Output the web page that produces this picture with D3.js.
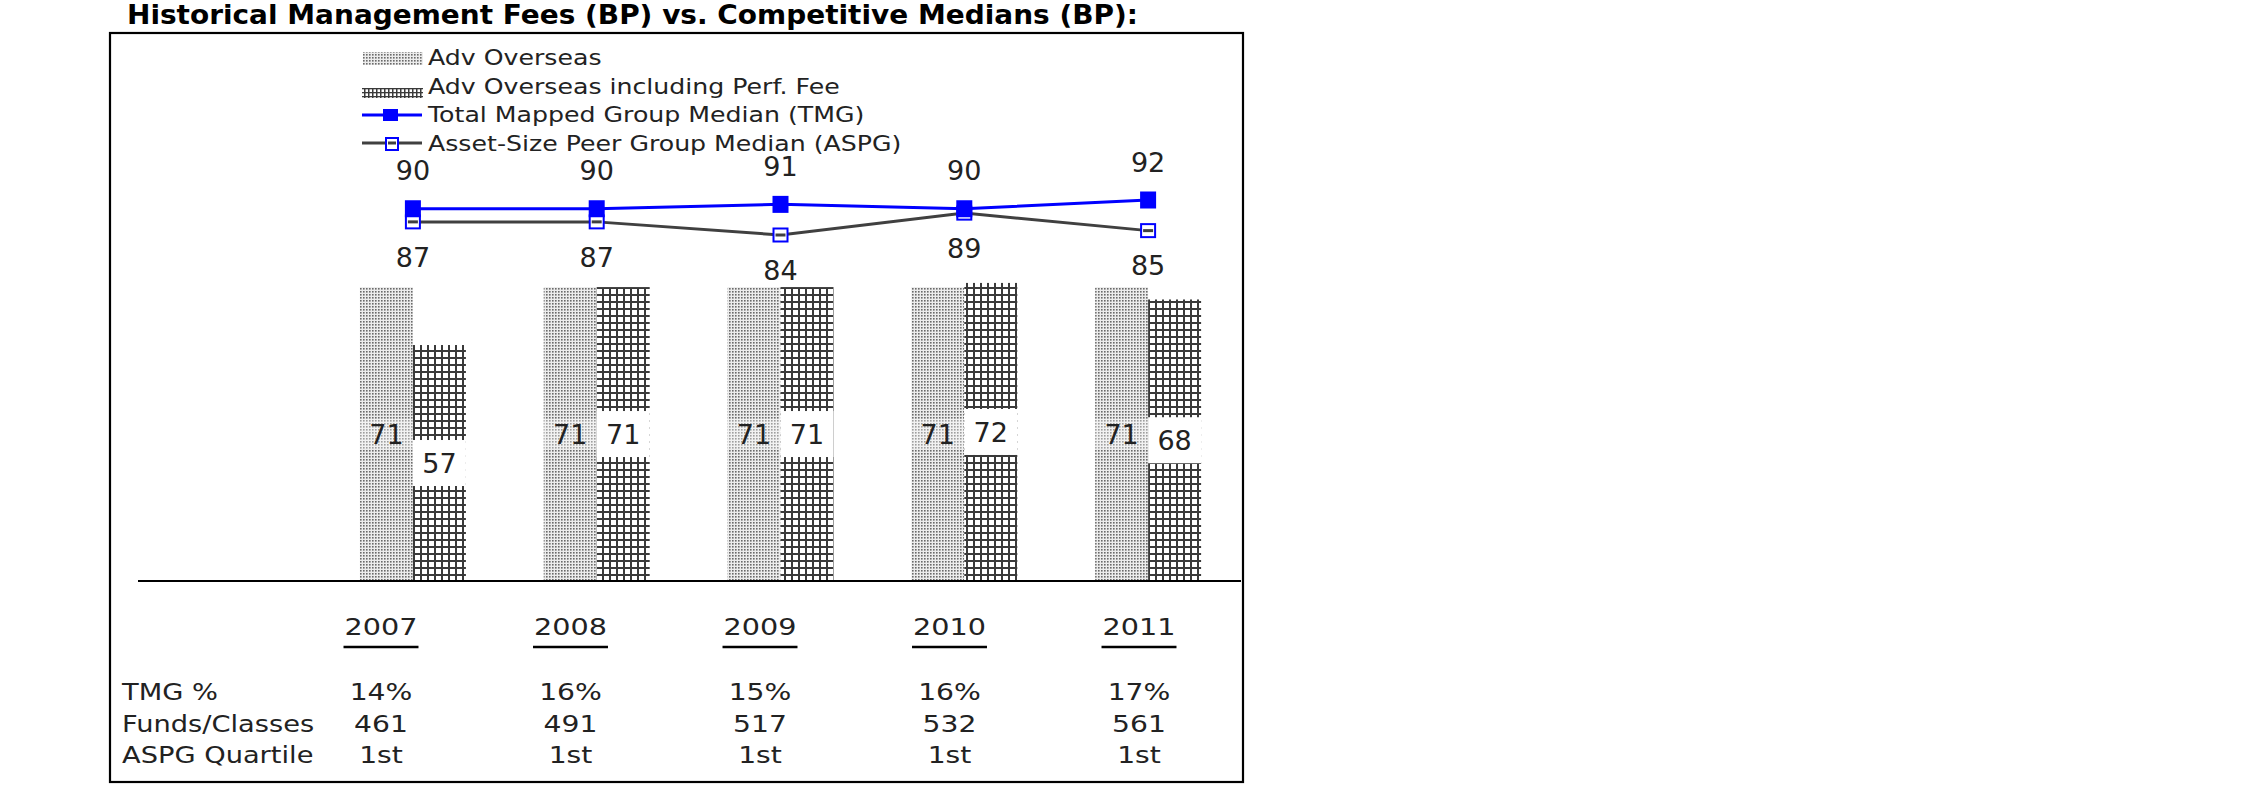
<!DOCTYPE html>
<html><head><meta charset="utf-8">
<script src="https://cdn.jsdelivr.net/npm/d3@7"></script>
<style>body{margin:0;background:#fff} svg{display:block}</style>
</head><body>
<svg id="chart" width="2250" height="796"></svg>
<script>
// ---------- data ----------
const title = "Historical Management Fees (BP) vs. Competitive Medians (BP):";
const years = ["2007", "2008", "2009", "2010", "2011"];
const advOverseas = [71, 71, 71, 71, 71];
const advOverseasPerf = [57, 71, 71, 72, 68];
const tmgMedian = [90, 90, 91, 90, 92];
const aspgMedian = [87, 87, 84, 89, 85];
const seriesNames = ["Adv Overseas", "Adv Overseas including Perf. Fee",
  "Total Mapped Group Median (TMG)", "Asset-Size Peer Group Median (ASPG)"];
const rowLabels = ["TMG %", "Funds/Classes", "ASPG Quartile"];
const tmgPct = ["14%", "16%", "15%", "16%", "17%"];
const fundsClasses = ["461", "491", "517", "532", "561"];
const aspgQuartile = ["1st", "1st", "1st", "1st", "1st"];

// ---------- setup ----------
const svg = d3.select("#chart");
const FONT = "'DejaVu Sans', Verdana, sans-serif";
const TXT = "#222";
const BLUE = "#0000ff";
const GREY = "#404040";

function stretch(sel, f) {
  sel.each(function () {
    const l = this.getComputedTextLength();
    this.setAttribute("textLength", l * f);
    this.setAttribute("lengthAdjust", "spacingAndGlyphs");
  });
  return sel;
}

const defs = svg.append("defs");
const dots = defs.append("pattern").attr("id", "dots").attr("patternUnits", "userSpaceOnUse")
  .attr("width", 3).attr("height", 3);
dots.append("rect").attr("width", 3).attr("height", 3).attr("fill", "#ececec");
dots.append("rect").attr("width", 1.6).attr("height", 1.6).attr("fill", "#6a6a6a");

const grid = defs.append("pattern").attr("id", "grid").attr("patternUnits", "userSpaceOnUse")
  .attr("width", 7).attr("height", 7);
grid.append("rect").attr("width", 7).attr("height", 7).attr("fill", "#fff");
grid.append("rect").attr("width", 2).attr("height", 7).attr("fill", "#3a3a3a");
grid.append("rect").attr("width", 7).attr("height", 2).attr("fill", "#3a3a3a");

const gridS = defs.append("pattern").attr("id", "gridS").attr("patternUnits", "userSpaceOnUse")
  .attr("width", 4).attr("height", 4);
gridS.append("rect").attr("width", 4).attr("height", 4).attr("fill", "#fff");
gridS.append("rect").attr("width", 1.5).attr("height", 4).attr("fill", "#3a3a3a");
gridS.append("rect").attr("width", 4).attr("height", 1.3).attr("fill", "#3a3a3a");

// ---------- scales ----------
const x = d3.scaleBand().domain(years).range([321, 1240]);
const cx = d => x(d) + x.bandwidth() / 2;
const xSub = d3.scaleBand().domain([0, 1]).range([-53, 53]);
const yBar = d3.scaleLinear().domain([0, 100]).range([581, 167]);
const yLine = d3.scaleLinear().domain([80, 100]).range([252.5, 165]);
const xTable = d3.scalePoint().domain(years).range([381, 1139]);

// ---------- bars ----------
const barSeries = [
  { vals: advOverseas, fill: "url(#dots)", idx: 0 },
  { vals: advOverseasPerf, fill: "url(#grid)", idx: 1 }
];
const barData = [];
barSeries.forEach(s => s.vals.forEach((v, i) => barData.push({ year: years[i], v, s })));

const gBars = svg.append("g");
gBars.selectAll("rect.bar").data(barData).join("rect").attr("class", "bar")
  .attr("x", d => cx(d.year) + xSub(d.s.idx))
  .attr("width", xSub.bandwidth())
  .attr("y", d => yBar(d.v))
  .attr("height", d => yBar(0) - yBar(d.v))
  .attr("fill", d => d.s.fill);

// label boxes
const mid = d => (yBar(d.v) + yBar(0)) / 2;
gBars.selectAll("rect.lbox").data(barData).join("rect").attr("class", "lbox")
  .attr("x", d => cx(d.year) + xSub(d.s.idx))
  .attr("width", xSub.bandwidth())
  .attr("y", d => mid(d) - (d.s.idx ? 23 : 15))
  .attr("height", d => d.s.idx ? 46 : 30)
  .attr("fill", "#fff")
  .attr("fill-opacity", d => d.s.idx ? 1 : 0.35);

gBars.selectAll("text.blabel").data(barData).join("text").attr("class", "blabel")
  .attr("x", d => cx(d.year) + xSub(d.s.idx) + xSub.bandwidth() / 2)
  .attr("y", d => mid(d) + 9.7)
  .attr("text-anchor", "middle")
  .attr("font-family", FONT).attr("font-size", 27).attr("fill", TXT)
  .text(d => d.v);

// axis baseline
svg.append("line").attr("x1", 138).attr("x2", 1241)
  .attr("y1", yBar(0)).attr("y2", yBar(0))
  .attr("stroke", "#000").attr("stroke-width", 2.2);

// ---------- lines ----------
const lineGen = d3.line().x((d, i) => cx(years[i])).y(d => yLine(d));

const gL = svg.append("g");
gL.append("path").datum(aspgMedian).attr("d", lineGen)
  .attr("fill", "none").attr("stroke", GREY).attr("stroke-width", 3);
gL.selectAll("rect.am").data(aspgMedian).join("rect").attr("class", "am")
  .attr("x", (d, i) => cx(years[i]) - 7).attr("y", d => yLine(d) - 6.5)
  .attr("width", 14).attr("height", 13)
  .attr("fill", "#fff").attr("stroke", BLUE).attr("stroke-width", 2);
gL.selectAll("rect.adot").data(aspgMedian).join("rect").attr("class", "adot")
  .attr("x", (d, i) => cx(years[i]) - 5).attr("y", d => yLine(d) - 1.5)
  .attr("width", 10).attr("height", 3).attr("fill", GREY);

gL.append("path").datum(tmgMedian).attr("d", lineGen)
  .attr("fill", "none").attr("stroke", BLUE).attr("stroke-width", 3);
gL.selectAll("rect.tm").data(tmgMedian).join("rect").attr("class", "tm")
  .attr("x", (d, i) => cx(years[i]) - 8).attr("y", d => yLine(d) - 8.5)
  .attr("width", 16).attr("height", 17).attr("fill", BLUE);

gL.selectAll("text.tl").data(tmgMedian).join("text").attr("class", "tl")
  .attr("x", (d, i) => cx(years[i])).attr("y", d => yLine(d) - 38 + 9.7)
  .attr("text-anchor", "middle").attr("font-family", FONT).attr("font-size", 27).attr("fill", TXT)
  .text(d => d);
gL.selectAll("text.al").data(aspgMedian).join("text").attr("class", "al")
  .attr("x", (d, i) => cx(years[i])).attr("y", d => yLine(d) + 35 + 9.7)
  .attr("text-anchor", "middle").attr("font-family", FONT).attr("font-size", 27).attr("fill", TXT)
  .text(d => d);

// ---------- legend ----------
const gLeg = svg.append("g");
const legY = i => 65 + i * 28.5;
gLeg.append("rect").attr("x", 363).attr("y", 52).attr("width", 60).attr("height", 13).attr("fill", "url(#dots)");
gLeg.append("rect").attr("x", 362).attr("y", 88).attr("width", 61).attr("height", 10).attr("fill", "url(#gridS)");
gLeg.append("line").attr("x1", 362).attr("x2", 422).attr("y1", 115).attr("y2", 115)
  .attr("stroke", BLUE).attr("stroke-width", 3);
gLeg.append("rect").attr("x", 383).attr("y", 109).attr("width", 15).attr("height", 12).attr("fill", BLUE);
gLeg.append("line").attr("x1", 362).attr("x2", 422).attr("y1", 143).attr("y2", 143)
  .attr("stroke", GREY).attr("stroke-width", 3);
gLeg.append("rect").attr("x", 386).attr("y", 138).attr("width", 12).attr("height", 12)
  .attr("fill", "#fff").attr("stroke", BLUE).attr("stroke-width", 2);
gLeg.append("rect").attr("x", 388).attr("y", 141.5).attr("width", 8).attr("height", 3).attr("fill", GREY);

stretch(gLeg.selectAll("text").data(seriesNames).join("text")
  .attr("x", 428).attr("y", (d, i) => legY(i))
  .attr("font-family", FONT).attr("font-size", 21).attr("fill", TXT)
  .text(d => d), 1.2);

// ---------- table ----------
const gT = svg.append("g");
const yearT = gT.selectAll("text.yr").data(years).join("text").attr("class", "yr")
  .attr("x", d => xTable(d)).attr("y", 635)
  .attr("text-anchor", "middle").attr("font-family", FONT).attr("font-size", 23.5).attr("fill", TXT)
  .text(d => d);
stretch(yearT, 1.22);
yearT.each(function (d) {
  const w = +this.getAttribute("textLength");
  gT.append("line").attr("x1", xTable(d) - w / 2 - 1).attr("x2", xTable(d) + w / 2 + 1)
    .attr("y1", 647).attr("y2", 647).attr("stroke", "#000").attr("stroke-width", 2.5);
});

const rows = [tmgPct, fundsClasses, aspgQuartile];
const rowY = i => 700 + i * 31.5;
stretch(gT.selectAll("text.rl").data(rowLabels).join("text").attr("class", "rl")
  .attr("x", 122).attr("y", (d, i) => rowY(i))
  .attr("font-family", FONT).attr("font-size", 23.5).attr("fill", TXT)
  .text(d => d), 1.16);
rows.forEach((r, ri) => {
  stretch(gT.selectAll("text.r" + ri).data(r).join("text").attr("class", "r" + ri)
    .attr("x", (d, i) => xTable(years[i])).attr("y", rowY(ri))
    .attr("text-anchor", "middle").attr("font-family", FONT).attr("font-size", 23.5).attr("fill", TXT)
    .text(d => d), 1.2);
});

// ---------- frame & title ----------
svg.append("rect").attr("x", 110).attr("y", 33).attr("width", 1133).attr("height", 749)
  .attr("fill", "none").attr("stroke", "#000").attr("stroke-width", 2.2);

svg.append("text").attr("x", 127).attr("y", 24)
  .attr("font-family", FONT).attr("font-weight", "bold").attr("font-size", 27).attr("fill", "#000")
  .attr("textLength", 1011).attr("lengthAdjust", "spacingAndGlyphs")
  .text(title);
</script>
</body></html>
